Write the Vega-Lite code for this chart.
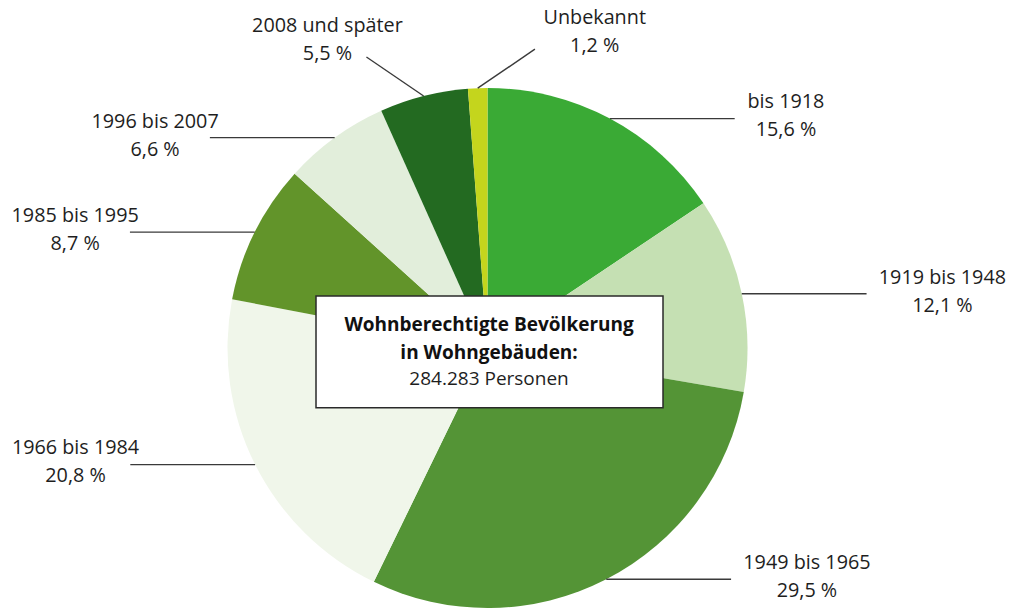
{
  "$schema": "https://vega.github.io/schema/vega-lite/v6.json",
  "width": 1017,
  "height": 610,
  "autosize": {"type": "fit", "contains": "padding"},
  "padding": 0,
  "background": "white",
  "config": {"view": {"stroke": null}, "text": {"font": "Open Sans"}},
  "datasets": {
    "slices": [
      {"idx": 1, "label": "bis 1918", "pct": 15.6},
      {"idx": 2, "label": "1919 bis 1948", "pct": 12.1},
      {"idx": 3, "label": "1949 bis 1965", "pct": 29.5},
      {"idx": 4, "label": "1966 bis 1984", "pct": 20.8},
      {"idx": 5, "label": "1985 bis 1995", "pct": 8.7},
      {"idx": 6, "label": "1996 bis 2007", "pct": 6.6},
      {"idx": 7, "label": "2008 und später", "pct": 5.5},
      {"idx": 8, "label": "Unbekannt", "pct": 1.2}
    ]
  },
  "data": {"name": "slices"},
  "layer": [
    {
      "mark": {"type": "arc", "radius": 260, "stroke": null},
      "encoding": {
        "x": {"datum": 0, "type": "quantitative", "scale": {"domain": [-1.875, 2.0365], "nice": false, "zero": false}, "axis": null},
        "y": {"datum": 0, "type": "quantitative", "scale": {"domain": [-1.0077, 1.3385], "nice": false, "zero": false}, "axis": null},
        "theta": {"field": "pct", "type": "quantitative", "stack": true},
        "order": {"field": "idx", "type": "quantitative"},
        "color": {
          "field": "label",
          "type": "nominal",
          "sort": null,
          "scale": {
            "domain": ["bis 1918", "1919 bis 1948", "1949 bis 1965", "1966 bis 1984", "1985 bis 1995", "1996 bis 2007", "2008 und später", "Unbekannt"],
            "range": ["#3aaa35", "#c5e0b3", "#549436", "#f0f6ea", "#62942a", "#e2eedb", "#236a21", "#c4d51d"]
          },
          "legend": null
        }
      }
    },
    {
      "transform": [
        {"window": [{"op": "sum", "field": "pct", "as": "cum"}], "sort": [{"field": "idx"}], "frame": [null, 0]},
        {"calculate": "(datum.cum - datum.pct / 2) / 100 * 2 * PI", "as": "mid"},
        {"calculate": "sin(datum.mid)", "as": "ex"},
        {"calculate": "cos(datum.mid)", "as": "ey"},
        {"calculate": "datum.ey > 0.95", "as": "top"},
        {"calculate": "datum.ex < -0.1 ? -1 : 1", "as": "side"},
        {"calculate": "datum.top ? datum.ex + datum.side * 0.22 : datum.ex + datum.side * 0.48", "as": "lx2"},
        {"calculate": "datum.top ? datum.ey + 0.15 : datum.ey", "as": "ly2"},
        {"calculate": "length(datum.label) * 0.0378", "as": "w"},
        {"calculate": "datum.top ? datum.lx2 + datum.side * 0.19 + 0.04 : (datum.side > 0 ? datum.lx2 + 0.046 + datum.w / 2 : datum.lx2 + 0.035 - datum.w / 2)", "as": "tx"},
        {"calculate": "datum.top ? datum.ly2 + 0.12 : datum.ly2 + 0.062", "as": "ty"},
        {"calculate": "datum.label + '\\n' + replace(format(datum.pct, '.1f'), '.', ',') + ' %'", "as": "txt"}
      ],
      "layer": [
        {
          "mark": {"type": "rule", "color": "#3a3a3a", "strokeWidth": 1.4},
          "encoding": {
            "x": {"field": "ex", "type": "quantitative", "scale": {"domain": [-1.875, 2.0365], "nice": false, "zero": false}, "axis": null},
            "y": {"field": "ey", "type": "quantitative", "scale": {"domain": [-1.0077, 1.3385], "nice": false, "zero": false}, "axis": null},
            "x2": {"field": "lx2"},
            "y2": {"field": "ly2"}
          }
        },
        {
          "mark": {"type": "text", "align": "center", "baseline": "middle", "fontSize": 19.8, "lineHeight": 28, "lineBreak": "\n", "color": "#1e1e1e"},
          "encoding": {
            "x": {"field": "tx", "type": "quantitative", "scale": {"domain": [-1.875, 2.0365], "nice": false, "zero": false}, "axis": null},
            "y": {"field": "ty", "type": "quantitative", "scale": {"domain": [-1.0077, 1.3385], "nice": false, "zero": false}, "axis": null},
            "text": {"field": "txt"}
          }
        }
      ]
    },
    {
      "data": {"values": [{}]},
      "mark": {"type": "rect", "fill": "white", "stroke": "#2a2a2a", "strokeWidth": 1.5},
      "encoding": {
        "x": {"datum": -0.6596, "type": "quantitative", "scale": {"domain": [-1.875, 2.0365], "nice": false, "zero": false}, "axis": null},
        "x2": {"datum": 0.675},
        "y": {"datum": 0.2, "type": "quantitative", "scale": {"domain": [-1.0077, 1.3385], "nice": false, "zero": false}, "axis": null},
        "y2": {"datum": -0.23}
      }
    },
    {
      "data": {"values": [{}]},
      "mark": {"type": "text", "align": "center", "baseline": "middle", "fontSize": 19, "fontWeight": "bold", "lineHeight": 28, "lineBreak": "\n", "color": "#111111"},
      "encoding": {
        "x": {"datum": 0.006, "type": "quantitative", "scale": {"domain": [-1.875, 2.0365], "nice": false, "zero": false}, "axis": null},
        "y": {"datum": 0.088, "type": "quantitative", "scale": {"domain": [-1.0077, 1.3385], "nice": false, "zero": false}, "axis": null},
        "text": {"value": "Wohnberechtigte Bevölkerung\nin Wohngebäuden:"}
      }
    },
    {
      "data": {"values": [{}]},
      "mark": {"type": "text", "align": "center", "baseline": "middle", "fontSize": 19, "color": "#1e1e1e"},
      "encoding": {
        "x": {"datum": 0.006, "type": "quantitative", "scale": {"domain": [-1.875, 2.0365], "nice": false, "zero": false}, "axis": null},
        "y": {"datum": -0.119, "type": "quantitative", "scale": {"domain": [-1.0077, 1.3385], "nice": false, "zero": false}, "axis": null},
        "text": {"value": "284.283 Personen"}
      }
    }
  ]
}
